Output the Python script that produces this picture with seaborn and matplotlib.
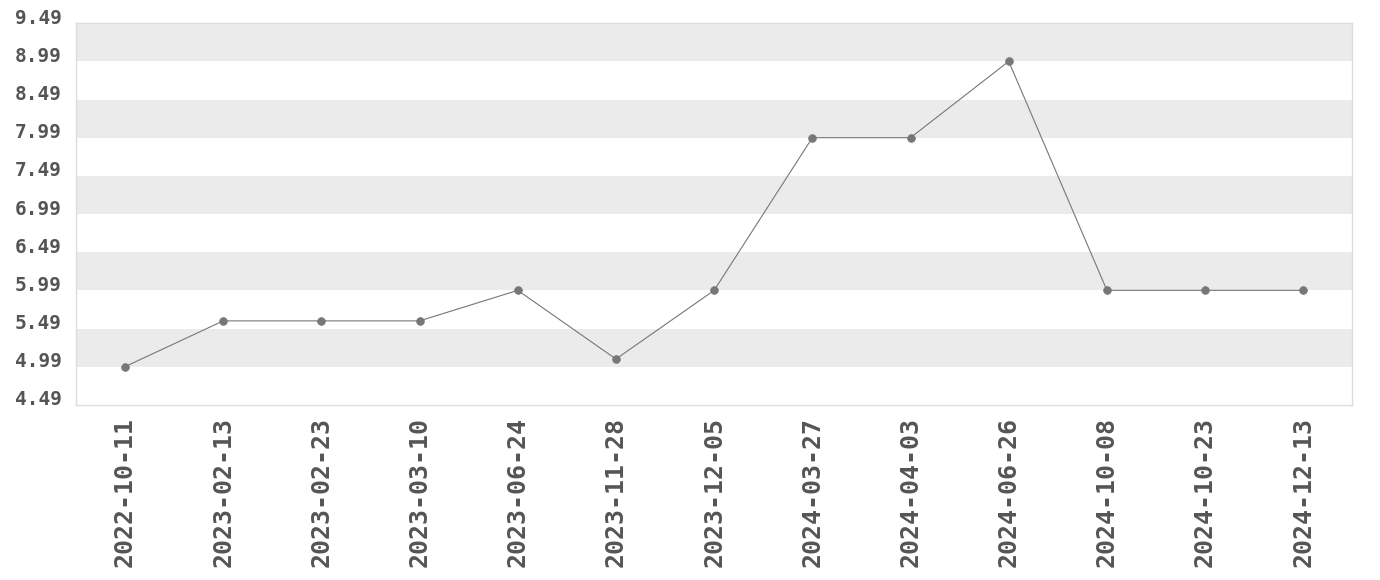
import numpy as np
import pandas as pd
import matplotlib
matplotlib.use("Agg")
import matplotlib.pyplot as plt
import matplotlib.transforms as mtransforms
import seaborn as sns

# data
dates = ["2022-10-11", "2023-02-13", "2023-02-23", "2023-03-10", "2023-06-24",
         "2023-11-28", "2023-12-05", "2024-03-27", "2024-04-03", "2024-06-26",
         "2024-10-08", "2024-10-23", "2024-12-13"]
prices = [4.99, 5.59, 5.59, 5.59, 5.99, 5.09, 5.99, 7.99, 7.99, 8.99, 5.99, 5.99, 5.99]
yticks = [4.49, 4.99, 5.49, 5.99, 6.49, 6.99, 7.49, 7.99, 8.49, 8.99, 9.49]

df = pd.DataFrame({"date": dates, "price": prices})

sns.set_style("white")
plt.rcParams["font.family"] = ["DejaVu Sans Mono", "Liberation Mono"]

fig, ax = plt.subplots(figsize=(13.8, 5.8), dpi=100)
fig.subplots_adjust(left=0.055, right=0.98, top=0.96, bottom=0.302)

# alternating bands
for i in range(1, len(yticks) - 1, 2):
    ax.axhspan(yticks[i], yticks[i + 1], color="#ebebeb", zorder=0, lw=0)

sns.pointplot(data=df, x="date", y="price", color="#777777",
              markers="o", markersize=5.5, linewidth=0.8, ax=ax, zorder=3)

ax.set_ylim(yticks[0], yticks[-1])
ax.set_xlim(-0.5, len(dates) - 0.5)
ax.set_yticks(yticks)
ax.set_yticklabels([f"{t:.2f}" for t in yticks], fontsize=14,
                   fontweight="bold", color="#555555")
ax.set_xticks(range(len(dates)))
ax.set_xticklabels(dates, rotation=90, fontsize=18, fontweight="bold",
                   color="#555555")
ax.tick_params(axis="both", length=0)
ax.tick_params(axis="y", pad=10)
ax.tick_params(axis="x", pad=9)

# y labels sit a little above their line
shift = mtransforms.ScaledTranslation(0, 7 / 100, fig.dpi_scale_trans)
for lab in ax.get_yticklabels():
    lab.set_transform(lab.get_transform() + shift)

ax.set_xlabel("")
ax.set_ylabel("")
for s in ax.spines.values():
    s.set_color("#dddddd")
    s.set_linewidth(1)

plt.savefig("out.png", dpi=100)
